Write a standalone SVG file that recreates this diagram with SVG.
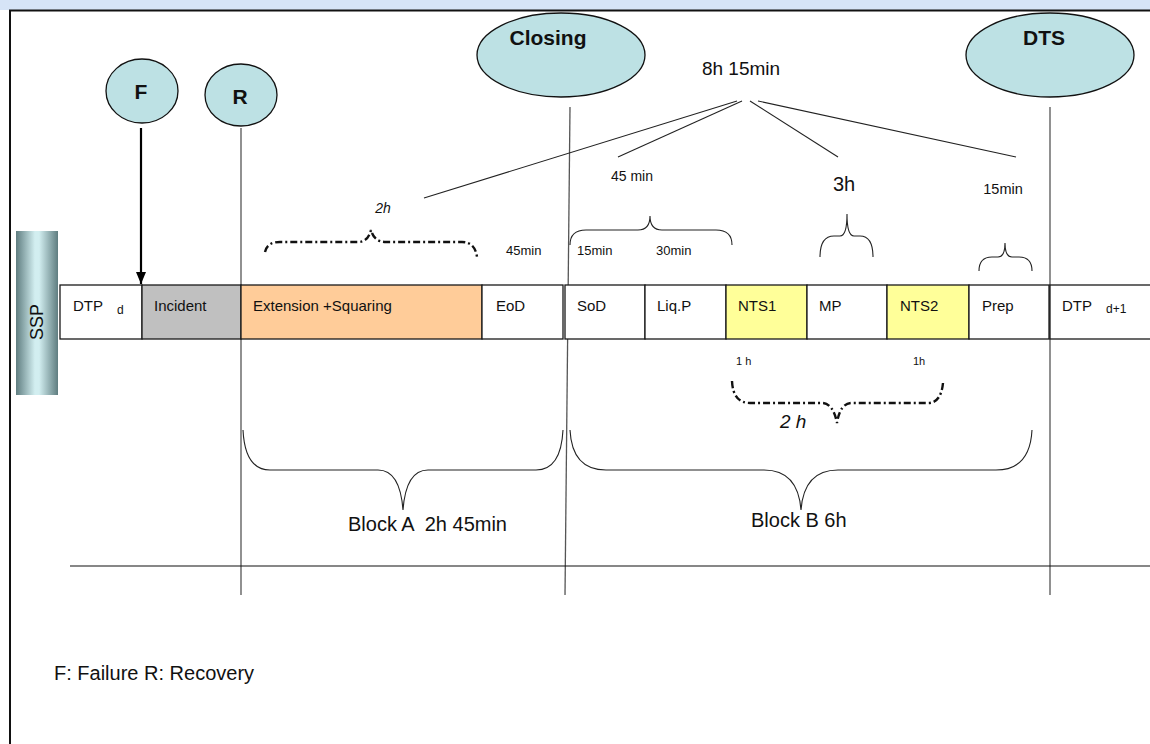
<svg xmlns="http://www.w3.org/2000/svg" width="1150" height="744" viewBox="0 0 1150 744">
  <style>
    .lbl { font-family: "Liberation Sans", Arial, sans-serif; fill: #111; }
    .box { stroke: #1a1a1a; stroke-width: 1.3; }
    .oval { fill: #bde1e4; stroke: #111; stroke-width: 1.3; }
    .oval-t { font-family: "Liberation Sans", Arial, sans-serif; font-weight: bold; font-size: 21px; fill: #111; text-anchor: middle; }
    .brace { fill: none; stroke: #222; stroke-width: 1.1; }
    .dbrace { fill: none; stroke: #111; stroke-width: 2.4; stroke-dasharray: 7 3 2 3; }
    .vline { stroke: #555; stroke-width: 1.3; fill: none; }
    .fan { stroke: #222; stroke-width: 1.1; fill: none; }
  </style>
  <defs>
    <marker id="arrow" viewBox="0 0 12 10" refX="12" refY="5" markerWidth="12" markerHeight="10" markerUnits="userSpaceOnUse" orient="auto">
      <path d="M0,0 L12,5 L0,10 Z" fill="#000"/>
    </marker>
    <linearGradient id="barGrad" x1="0" y1="0" x2="1" y2="0">
      <stop offset="0" stop-color="#5f7d80"/>
      <stop offset="0.45" stop-color="#d2eef0"/>
      <stop offset="0.55" stop-color="#d2eef0"/>
      <stop offset="1" stop-color="#5f7d80"/>
    </linearGradient>
  </defs>

  <!-- page background and frame -->
  <rect x="0" y="0" width="1150" height="744" fill="#ffffff"/>
  <rect x="0" y="0" width="1150" height="10" fill="#d6e4f7"/>
  <line x1="9" y1="10.5" x2="1150" y2="10.5" stroke="#111" stroke-width="2"/>
  <line x1="10" y1="10" x2="10" y2="744" stroke="#111" stroke-width="2"/>

  <!-- connectors: markers, guides and fan lines -->
  <g id="connectors">
    <line x1="141" y1="128" x2="141" y2="284" stroke="#000" stroke-width="2.2" marker-end="url(#arrow)"/>
    <line class="vline" x1="241" y1="128" x2="241" y2="595"/>
    <line class="vline" x1="570" y1="107" x2="565" y2="595"/>
    <line class="vline" x1="1050" y1="107" x2="1050" y2="595"/>
    <line class="fan" x1="737" y1="101" x2="424" y2="198"/>
    <line class="fan" x1="742" y1="101" x2="618" y2="157"/>
    <line class="fan" x1="750" y1="101" x2="838" y2="157"/>
    <line class="fan" x1="758" y1="101" x2="1016" y2="157"/>
    <line x1="70" y1="566" x2="1150" y2="566" stroke="#111" stroke-width="1.1"/>
  </g>

  <!-- event ovals -->
  <g id="node-F">
    <ellipse class="oval" cx="142" cy="91" rx="36" ry="32"/>
    <text class="oval-t" x="141" y="99">F</text>
  </g>
  <g id="node-R">
    <ellipse class="oval" cx="241" cy="95" rx="36" ry="31"/>
    <text class="oval-t" x="240" y="104">R</text>
  </g>
  <g id="node-closing">
    <ellipse class="oval" cx="561" cy="55" rx="84" ry="42"/>
    <text class="oval-t" x="548" y="45">Closing</text>
  </g>
  <g id="node-dts">
    <ellipse class="oval" cx="1050" cy="55" rx="84" ry="42"/>
    <text class="oval-t" x="1044" y="45">DTS</text>
  </g>

  <!-- SSP side bar -->
  <g id="node-ssp">
    <rect x="16" y="231" width="42" height="164" fill="url(#barGrad)"/>
    <text class="lbl" font-size="18" text-anchor="middle" transform="translate(43,322) rotate(-90)">SSP</text>
  </g>

  <!-- timeline blocks -->
  <g id="node-dtp-d">
    <rect class="box" x="60" y="285" width="82" height="54" fill="#ffffff"/>
    <text class="lbl" x="73" y="311" font-size="15">DTP</text>
    <text class="lbl" x="117" y="314" font-size="12">d</text>
  </g>
  <g id="node-incident">
    <rect class="box" x="142" y="285" width="99" height="54" fill="#c0c0c0"/>
    <text class="lbl" x="154" y="311" font-size="15">Incident</text>
  </g>
  <g id="node-extension">
    <rect class="box" x="241" y="285" width="241" height="54" fill="#ffcc99"/>
    <text class="lbl" x="253" y="311" font-size="15">Extension +Squaring</text>
  </g>
  <g id="node-eod">
    <rect class="box" x="482" y="285" width="81" height="54" fill="#ffffff"/>
    <text class="lbl" x="496" y="311" font-size="15">EoD</text>
  </g>
  <g id="node-sod">
    <rect class="box" x="565" y="285" width="80" height="54" fill="#ffffff"/>
    <text class="lbl" x="577" y="311" font-size="15">SoD</text>
  </g>
  <g id="node-liqp">
    <rect class="box" x="645" y="285" width="81" height="54" fill="#ffffff"/>
    <text class="lbl" x="657" y="311" font-size="15">Liq.P</text>
  </g>
  <g id="node-nts1">
    <rect class="box" x="726" y="285" width="81" height="54" fill="#ffff99"/>
    <text class="lbl" x="738" y="311" font-size="15">NTS1</text>
  </g>
  <g id="node-mp">
    <rect class="box" x="807" y="285" width="80" height="54" fill="#ffffff"/>
    <text class="lbl" x="819" y="311" font-size="15">MP</text>
  </g>
  <g id="node-nts2">
    <rect class="box" x="887" y="285" width="82" height="54" fill="#ffff99"/>
    <text class="lbl" x="900" y="311" font-size="15">NTS2</text>
  </g>
  <g id="node-prep">
    <rect class="box" x="969" y="285" width="80" height="54" fill="#ffffff"/>
    <text class="lbl" x="982" y="311" font-size="15">Prep</text>
  </g>
  <g id="node-dtp-d1">
    <rect class="box" x="1050" y="285" width="105" height="54" fill="#ffffff"/>
    <text class="lbl" x="1062" y="311" font-size="15">DTP</text>
    <text class="lbl" x="1106" y="313" font-size="12">d+1</text>
  </g>

  <!-- duration braces -->
  <g id="braces">
    <path class="dbrace" d="M265,252 Q267,242 280,242 L358,242 Q368,242 371,230 Q374,242 386,242 L462,242 Q475,242 477,257"/>
    <path class="brace" d="M570,245 Q570,230 586,230 L638,230 Q650,230 650,216 Q650,230 662,230 L716,230 Q732,230 732,245"/>
    <path class="brace" d="M820,257 Q820,236 834,236 L840,236 Q847,236 847,214 Q847,236 854,236 L860,236 Q873,236 873,257"/>
    <path class="brace" d="M979,271 Q979,257 992,257 L998,257 Q1005,257 1005,243 Q1005,257 1012,257 L1019,257 Q1032,257 1032,271"/>
    <path class="dbrace" d="M732,381 Q733,403 750,403 L822,403 Q833,403 837,423 Q840,403 852,403 L928,403 Q941,403 943,383"/>
    <path class="brace" d="M243,430 Q245,470 270,470 L378,470 Q400,470 403,510 Q406,470 428,470 L536,470 Q561,470 563,430"/>
    <path class="brace" d="M570,430 Q572,470 606,470 L764,470 Q798,470 801,510 Q804,470 838,470 L996,470 Q1030,470 1032,430"/>
  </g>

  <!-- duration labels -->
  <g id="labels">
    <text class="lbl" x="741" y="75" font-size="19" text-anchor="middle">8h 15min</text>
    <text class="lbl" x="632" y="181" font-size="14" text-anchor="middle">45 min</text>
    <text class="lbl" x="844" y="191" font-size="20" text-anchor="middle">3h</text>
    <text class="lbl" x="1003" y="194" font-size="14.5" text-anchor="middle">15min</text>
    <text class="lbl" x="383" y="213" font-size="14" font-style="italic" text-anchor="middle">2h</text>
    <text class="lbl" x="506" y="255" font-size="13">45min</text>
    <text class="lbl" x="577" y="255" font-size="13">15min</text>
    <text class="lbl" x="656" y="255" font-size="13">30min</text>
    <text class="lbl" x="736" y="365" font-size="11">1 h</text>
    <text class="lbl" x="913" y="365" font-size="11">1h</text>
    <text class="lbl" x="780" y="428" font-size="19" font-style="italic">2 h</text>
    <text class="lbl" x="348" y="531" font-size="20" xml:space="preserve">Block A  2h 45min</text>
    <text class="lbl" x="751" y="527" font-size="20">Block B 6h</text>
    <text class="lbl" x="54" y="680" font-size="20">F: Failure R: Recovery</text>
  </g>
</svg>
